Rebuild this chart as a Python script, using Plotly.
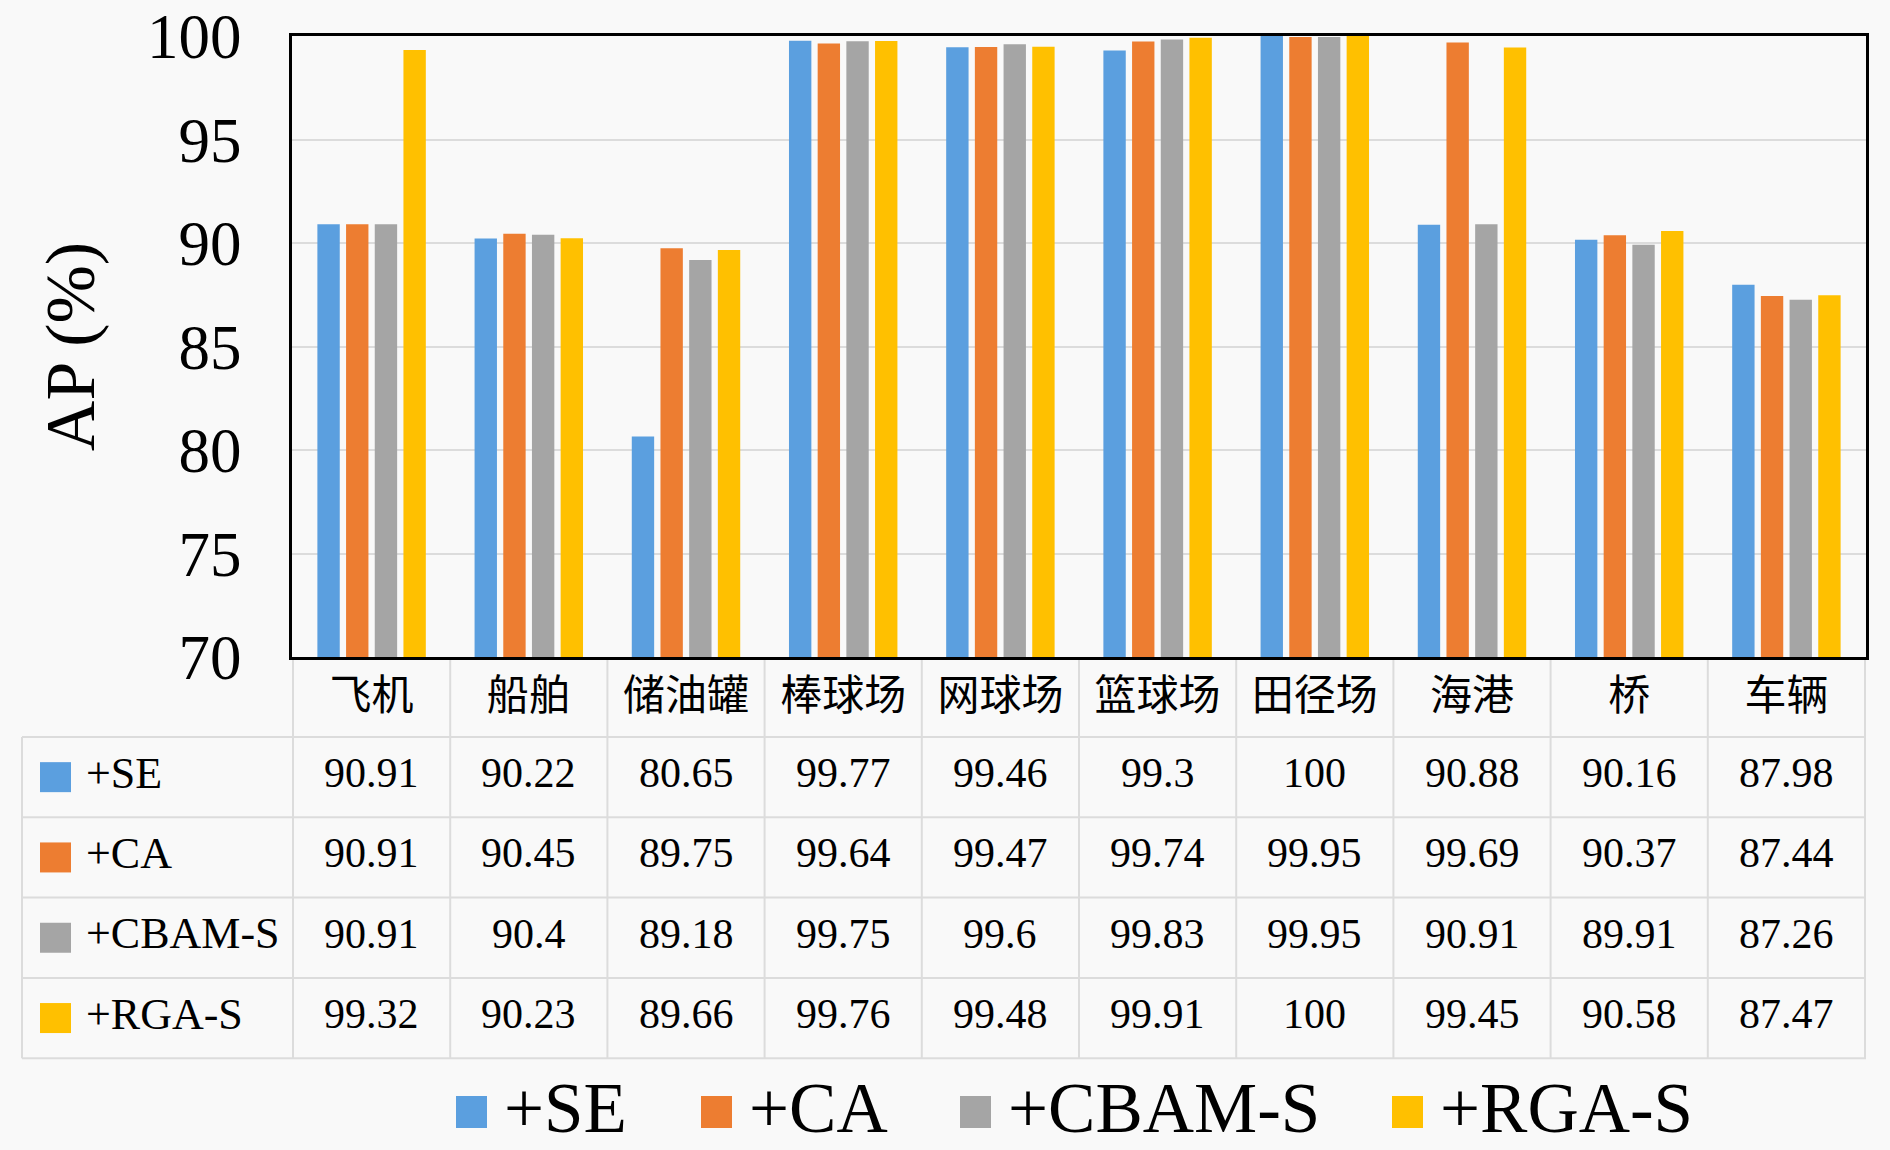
import plotly.graph_objects as go

categories = ["飞机", "船舶", "储油罐", "棒球场", "网球场", "篮球场", "田径场", "海港", "桥", "车辆"]
series_names = ["+SE", "+CA", "+CBAM-S", "+RGA-S"]
se = [90.91, 90.22, 80.65, 99.77, 99.46, 99.3, 100, 90.88, 90.16, 87.98]
ca = [90.91, 90.45, 89.75, 99.64, 99.47, 99.74, 99.95, 99.69, 90.37, 87.44]
cbam_s = [90.91, 90.4, 89.18, 99.75, 99.6, 99.83, 99.95, 90.91, 89.91, 87.26]
rga_s = [99.32, 90.23, 89.66, 99.76, 99.48, 99.91, 100, 99.45, 90.58, 87.47]
series_values = [se, ca, cbam_s, rga_s]
y_ticks = [70, 75, 80, 85, 90, 95, 100]

colors = ["#5B9FDF", "#ED7D31", "#A5A5A5", "#FFC000"]
serif = "Liberation Serif"
cjk = "Noto Sans CJK SC"
bg = "#F9F9F9"
grid = "#DCDCDC"

# page geometry (pixels)
W, H = 1890, 1150
L, R, T, B = 292, 24, 36, 493
plot_w = W - L - R
plot_h = H - T - B


def px_x(px):
    return (px - L) / plot_w


def px_y(py):
    return (H - B - py) / plot_h


fig = go.Figure()
for name, vals, col in zip(series_names, series_values, colors):
    fig.add_trace(go.Bar(x=categories, y=vals, name=name, marker_color=col,
                         marker_line_width=0, showlegend=False))

shapes = []
annotations = []

# table under the plot
header_top = H - B
row_top = 737
row_h = 80.3
n_rows = len(series_names)
table_bottom = row_top + n_rows * row_h

for i in range(len(categories) + 1):
    shapes.append(dict(type="line", xref="x", yref="paper", x0=i - 0.5, x1=i - 0.5,
                       y0=px_y(header_top), y1=px_y(table_bottom),
                       line=dict(color=grid, width=2), layer="below"))
shapes.append(dict(type="line", xref="paper", yref="paper", x0=px_x(22), x1=px_x(22),
                   y0=px_y(row_top), y1=px_y(table_bottom),
                   line=dict(color=grid, width=2)))
for r in range(n_rows + 1):
    yy = px_y(row_top + r * row_h)
    shapes.append(dict(type="line", xref="paper", yref="paper", x0=px_x(22), x1=1,
                       y0=yy, y1=yy, line=dict(color=grid, width=2)))

for r, (name, vals, col) in enumerate(zip(series_names, series_values, colors)):
    yc = row_top + (r + 0.5) * row_h
    shapes.append(dict(type="rect", xref="paper", yref="paper",
                       x0=px_x(40), x1=px_x(71), y0=px_y(yc - 15), y1=px_y(yc + 15),
                       fillcolor=col, line=dict(width=0)))
    annotations.append(dict(text=name, xref="paper", yref="paper", x=px_x(84), y=px_y(yc - 4),
                            xanchor="left", yanchor="middle", showarrow=False,
                            font=dict(family=serif, size=44, color="black")))
    for c, v in zip(categories, vals):
        annotations.append(dict(text=f"{v:g}", xref="x", yref="paper", x=c, y=px_y(yc - 4),
                                xanchor="center", yanchor="middle", showarrow=False,
                                font=dict(family=serif, size=42, color="black")))

# legend drawn by hand so the swatches can be large
legend_x = [456, 701, 960, 1392]
legend_y = 1112
for name, col, lx in zip(series_names, colors, legend_x):
    shapes.append(dict(type="rect", xref="paper", yref="paper",
                       x0=px_x(lx), x1=px_x(lx + 31), y0=px_y(legend_y - 16), y1=px_y(legend_y + 16),
                       fillcolor=col, line=dict(width=0)))
    annotations.append(dict(text=name, xref="paper", yref="paper", x=px_x(lx + 46), y=px_y(legend_y - 4),
                            xanchor="left", yanchor="middle", showarrow=False,
                            font=dict(family=serif, size=71, color="black")))

fig.update_layout(
    width=W, height=H,
    margin=dict(l=L, r=R, t=T, b=B),
    paper_bgcolor=bg, plot_bgcolor=bg,
    barmode="group", bargap=0.27, bargroupgap=0.22,
    shapes=shapes, annotations=annotations,
    xaxis=dict(
        tickfont=dict(family=cjk, size=42, color="black"),
        showline=True, mirror=True, linecolor="black", linewidth=3,
        ticks="", showgrid=False, ticklabelstandoff=0, automargin=False,
    ),
    yaxis=dict(
        range=[70, 100], tickvals=y_ticks,
        tickfont=dict(family=serif, size=63, color="black"),
        showline=True, mirror=True, linecolor="black", linewidth=3,
        ticks="", showgrid=True, gridcolor=grid, gridwidth=2,
        ticklabelstandoff=35, automargin=False,
        title=dict(text="AP (%)", font=dict(family=serif, size=70, color="black"), standoff=30),
    ),
)

fig.write_html("out.html", config={"displayModeBar": False},
               post_script="document.body.style.margin='0';")
